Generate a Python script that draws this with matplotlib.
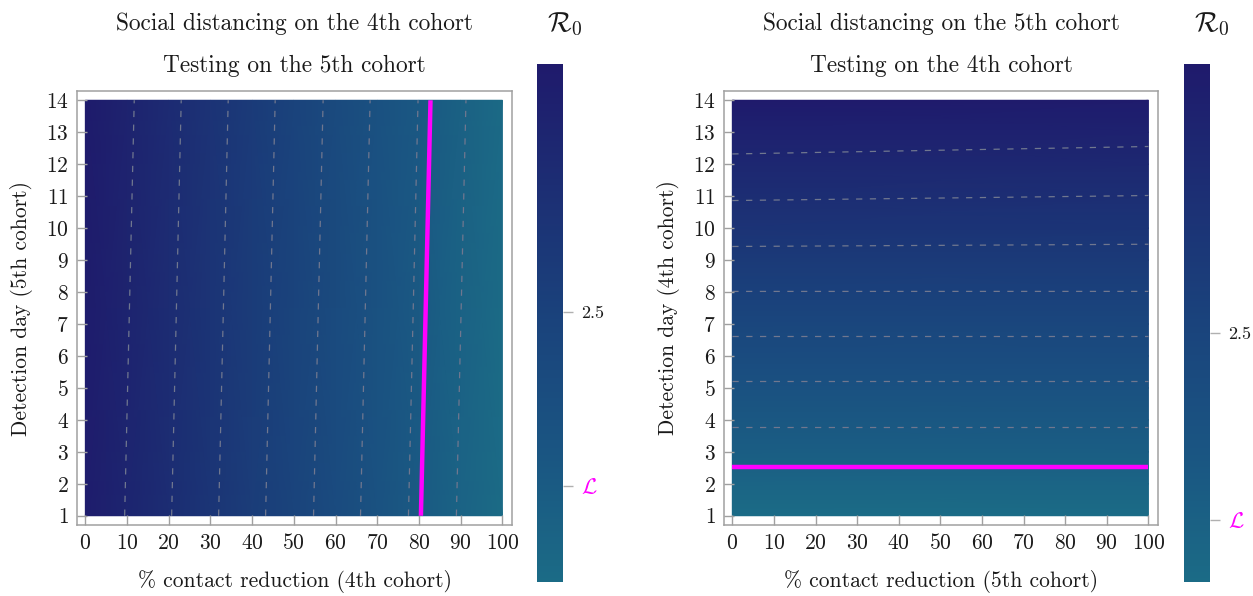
import numpy as np
import matplotlib
matplotlib.use("Agg")
import matplotlib.pyplot as plt
from matplotlib.colors import LinearSegmentedColormap, Normalize
import matplotlib.cm as cm

plt.rcParams['font.family'] = 'serif'
plt.rcParams['font.serif'] = ['cmr10', 'DejaVu Serif']
plt.rcParams['mathtext.fontset'] = 'cm'
plt.rcParams['axes.formatter.use_mathtext'] = True

# ---------------- data ----------------
# Left panel: social distancing on 4th cohort (x), testing on 5th cohort (y)
left_x = [0, 10, 20, 30, 40, 50, 60, 70, 80, 90, 100]
left_y = [1, 14]
left_r0_day1 = [4.50, 4.065, 3.63, 3.195, 2.76, 2.325, 1.89, 1.455, 1.02, 0.585, 0.15]
left_r0_day14 = [4.60, 4.165, 3.73, 3.295, 2.86, 2.425, 1.99, 1.555, 1.12, 0.685, 0.25]
left_levels = [0.63, 1.13, 1.63, 2.12, 2.62, 3.11, 3.60, 4.09]
left_threshold = 1.0
left_range = [0.17, 4.64]

# Right panel: social distancing on 5th cohort (x), testing on 4th cohort (y)
right_x = [0, 100]
right_y = [1, 2, 3, 4, 5, 6, 7, 8, 9, 10, 11, 12, 13, 14]
right_r0_red0 = [0.504, 0.834, 1.154, 1.464, 1.784, 2.104, 2.424, 2.744, 3.064,
                 3.384, 3.704, 4.024, 4.324, 4.664]
right_r0_red100 = [0.504, 0.834, 1.154, 1.464, 1.784, 2.104, 2.424, 2.744, 3.049,
                   3.354, 3.654, 3.954, 4.254, 4.568]
right_levels = [1.39, 1.85, 2.30, 2.75, 3.20, 3.66, 4.12]
right_threshold = 1.0
right_range = [0.50, 4.66]

x_ticks = [0, 10, 20, 30, 40, 50, 60, 70, 80, 90, 100]
y_ticks = list(range(1, 15))

panels = [
    dict(x=left_x, y=left_y, z=np.array([left_r0_day1, left_r0_day14]),
         levels=left_levels, thr=left_threshold, rng=left_range,
         t1="Social distancing on the 4th cohort", t2="Testing on the 5th cohort",
         xlabel="% contact reduction (4th cohort)", ylabel="Detection day (5th cohort)",
         ax_rect=[77/1253, 1-525/596, 435/1253, 434/596],
         cb_rect=[537/1253, 1-582/596, 26/1253, 518/596]),
    dict(x=right_x, y=right_y, z=np.array([right_r0_red0, right_r0_red100]).T,
         levels=right_levels, thr=right_threshold, rng=right_range,
         t1="Social distancing on the 5th cohort", t2="Testing on the 4th cohort",
         xlabel="% contact reduction (5th cohort)", ylabel="Detection day (4th cohort)",
         ax_rect=[724/1253, 1-525/596, 434/1253, 434/596],
         cb_rect=[1184/1253, 1-582/596, 26/1253, 518/596]),
]

cmap = LinearSegmentedColormap.from_list(
    "r0", ["#1b6b86", "#1a5582", "#1a437c", "#1c2f74", "#1f1a6c"])

fig = plt.figure(figsize=(12.53, 5.96), dpi=100)
frame_col = "#a0a0a0"
txt_col = "#1a1a1a"

for p in panels:
    ax = fig.add_axes(p["ax_rect"])
    X, Y = np.meshgrid(p["x"], p["y"])
    norm = Normalize(vmin=p["rng"][0], vmax=p["rng"][1])
    ax.pcolormesh(X, Y, p["z"], cmap=cmap, norm=norm, shading="gouraud")
    ax.contour(X, Y, p["z"], levels=p["levels"], colors="#70778f",
               linewidths=0.9, linestyles=[(0, (5, 6))])
    ax.contour(X, Y, p["z"], levels=[p["thr"]], colors="#ff00ff", linewidths=3.2)
    ax.set_xlim(-2.0, 102.3)
    ax.set_ylim(0.71, 14.29)
    ax.set_xticks(x_ticks)
    ax.set_yticks(y_ticks)
    ax.tick_params(direction="in", length=7, width=1, color=frame_col,
                   labelsize=15.5, labelcolor=txt_col, pad=6)
    for s in ax.spines.values():
        s.set_color(frame_col)
        s.set_linewidth(1.1)
    ax.set_xlabel(p["xlabel"], fontsize=15.5, color=txt_col, labelpad=12)
    ax.set_ylabel(p["ylabel"], fontsize=15.5, color=txt_col, labelpad=9)
    cx = p["ax_rect"][0] + p["ax_rect"][2] / 2
    fig.text(cx, 1 - 24/596, p["t1"], ha="center", va="center", fontsize=16.8, color=txt_col)
    fig.text(cx, 1 - 66/596, p["t2"], ha="center", va="center", fontsize=16.8, color=txt_col)

    cax = fig.add_axes(p["cb_rect"])
    sm = cm.ScalarMappable(norm=norm, cmap=cmap)
    cb = fig.colorbar(sm, cax=cax)
    cb.outline.set_visible(False)
    cb.set_ticks([p["thr"], 2.5])
    cb.set_ticklabels([r"$\mathcal{L}$", "2.5"])
    cax.tick_params(direction="out", length=7, width=1, color="#b0b0b0",
                    labelsize=13, labelcolor=txt_col, pad=6)
    cax.get_yticklabels()[0].set_color("#ff00ff")
    cax.get_yticklabels()[0].set_fontsize(16)
    cbx = p["cb_rect"][0] + p["cb_rect"][2]
    fig.text(cbx + 2/1253, 1 - 24/596, r"$\mathcal{R}_0$", ha="center", va="center",
             fontsize=20, color=txt_col)

fig.savefig("out.png", dpi=100, facecolor="white")
